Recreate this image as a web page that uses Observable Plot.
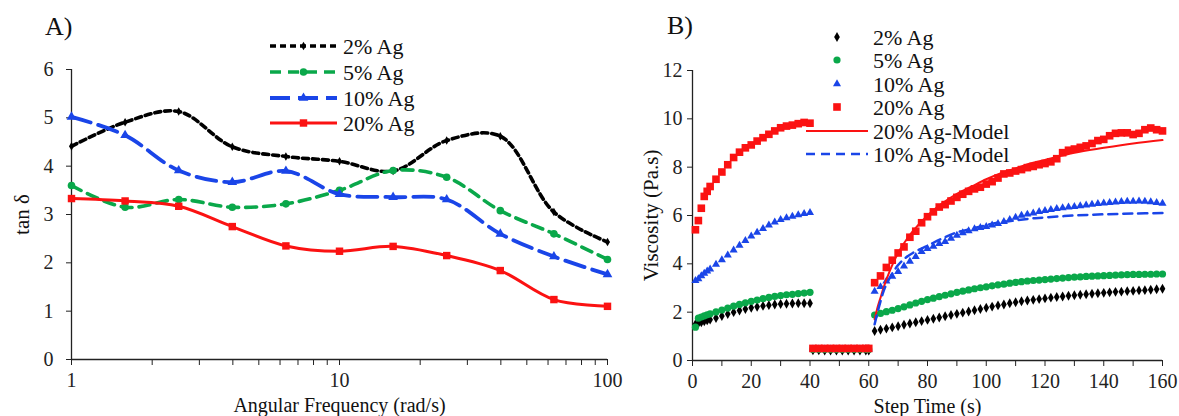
<!DOCTYPE html>
<html><head><meta charset="utf-8">
<script src="https://cdn.jsdelivr.net/npm/d3@7"></script>
<script src="https://cdn.jsdelivr.net/npm/@observablehq/plot@0.6"></script>
<style>
body{margin:0;background:#fff;}
#wrap{position:relative;width:1179px;height:416px;font-family:"Liberation Serif","Times New Roman",serif;overflow:hidden;}
#a,#b{position:absolute;top:0;}
#a{left:0px} #b{left:640px}
svg.ov{position:absolute;left:0;top:0;}
</style></head><body><div id="wrap"><div id="a"></div><div id="b"></div></div>
<script>
// ---------- Panel A data ----------
const freq = [1, 1.585, 2.512, 3.981, 6.31, 10, 15.85, 25.12, 39.81, 63.1, 100];
const tan2 = [4.41, 4.91, 5.13, 4.40, 4.20, 4.10, 3.90, 4.53, 4.62, 3.05, 2.43];
const tan5 = [3.60, 3.15, 3.31, 3.15, 3.22, 3.50, 3.91, 3.77, 3.08, 2.60, 2.07];
const tan10 = [5.02, 4.64, 3.91, 3.67, 3.90, 3.42, 3.36, 3.31, 2.60, 2.13, 1.76];
const tan20 = [3.33, 3.28, 3.17, 2.75, 2.35, 2.24, 2.34, 2.15, 1.84, 1.24, 1.10];
const xTicksA = [1,2,3,4,5,6,7,8,9,10,20,30,40,50,60,70,80,90,100];
const xLabelsA = [1,10,100];
const yTicksA = [0,1,2,3,4,5,6];

// ---------- Panel B data ----------
const t1 = [1,2,3,4,5,6,8,10,12,14,16,18,20,22,24,26,28,30,32,34,36,38,40];
const v2_1 = [1.5,1.54,1.58,1.62,1.66,1.69,1.76,1.84,1.92,2.0,2.07,2.13,2.18,2.22,2.26,2.29,2.32,2.34,2.35,2.36,2.37,2.37,2.37];
const v5_1 = [1.38,1.75,1.8,1.85,1.89,1.93,2.01,2.09,2.17,2.25,2.32,2.39,2.45,2.5,2.56,2.61,2.65,2.69,2.72,2.74,2.77,2.79,2.82];
const v10_1 = [3.3,3.38,3.5,3.6,3.7,3.78,3.98,4.16,4.36,4.57,4.76,4.96,5.14,5.3,5.46,5.6,5.72,5.83,5.9,5.96,6.02,6.08,6.12];
const v20_1 = [5.41,5.79,6.3,6.79,7.0,7.2,7.5,7.8,8.1,8.4,8.62,8.8,8.92,9.08,9.22,9.36,9.5,9.63,9.7,9.74,9.8,9.85,9.82];

const t2 = [41,43,45,47,49,51,53,55,57,59,60];
const v2_2 = [0.42,0.42,0.41,0.41,0.41,0.41,0.41,0.41,0.41,0.41,0.41];
const v5_2 = [0.46,0.46,0.46,0.46,0.46,0.46,0.46,0.46,0.46,0.46,0.46];
const v10_2 = [0.47,0.47,0.47,0.47,0.47,0.47,0.47,0.47,0.47,0.47,0.47];
const v20_2 = [0.5,0.5,0.5,0.5,0.5,0.5,0.5,0.5,0.5,0.5,0.5];

const t3 = [62,64,66,68,70,72,74,76,78,80,82,84,86,88,90,92,94,96,98,100,102,104,106,108,110,112,114,116,118,120,122,124,126,128,130,132,134,136,138,140,142,144,146,148,150,152,154,156,158,160];
const v2_3 = [1.22,1.27,1.32,1.37,1.42,1.48,1.53,1.58,1.63,1.68,1.73,1.78,1.83,1.88,1.93,1.98,2.03,2.08,2.13,2.18,2.23,2.28,2.32,2.37,2.41,2.45,2.48,2.51,2.54,2.57,2.6,2.63,2.65,2.68,2.7,2.72,2.74,2.76,2.78,2.8,2.82,2.84,2.85,2.87,2.88,2.9,2.91,2.93,2.95,2.97];
const v5_3 = [1.88,1.95,2.02,2.08,2.15,2.22,2.3,2.38,2.45,2.52,2.58,2.64,2.7,2.76,2.82,2.87,2.92,2.97,3.01,3.05,3.09,3.13,3.16,3.2,3.23,3.26,3.29,3.31,3.33,3.35,3.37,3.39,3.41,3.43,3.45,3.46,3.48,3.49,3.5,3.51,3.52,3.53,3.54,3.55,3.56,3.56,3.57,3.57,3.58,3.58];
const v10_3 = [2.86,3.05,3.28,3.48,3.68,3.9,4.1,4.3,4.5,4.63,4.72,4.83,4.92,5.05,5.18,5.28,5.36,5.44,5.5,5.54,5.6,5.66,5.74,5.83,5.92,6.0,6.05,6.1,6.16,6.2,6.24,6.28,6.31,6.34,6.37,6.4,6.43,6.46,6.49,6.51,6.53,6.55,6.57,6.58,6.58,6.59,6.58,6.56,6.53,6.5];
const v20_3 = [3.22,3.5,3.85,4.15,4.45,4.7,5.1,5.35,5.7,5.95,6.15,6.35,6.45,6.6,6.75,6.88,7.0,7.1,7.17,7.3,7.4,7.55,7.72,7.76,7.84,7.9,7.98,8.03,8.1,8.15,8.22,8.35,8.6,8.7,8.75,8.82,8.88,8.98,9.1,9.15,9.3,9.4,9.42,9.42,9.35,9.4,9.55,9.62,9.55,9.5];

const tModel = [62,63,64,65,66,68,70,72,75,80,85,90,95,100,105,110,115,120,130,140,150,160];
const model20 = [1.7,2.2,2.6,3.0,3.35,3.95,4.45,4.85,5.35,6.0,6.5,6.9,7.2,7.5,7.75,7.95,8.15,8.3,8.6,8.8,8.98,9.12];
const model10 = [1.5,2.0,2.45,2.85,3.15,3.6,3.95,4.2,4.45,4.75,5.05,5.3,5.45,5.6,5.72,5.8,5.87,5.92,6.0,6.05,6.08,6.1];

const xTicksB = [0,10,20,30,40,50,60,70,80,90,100,110,120,130,140,150,160];
const xLabelsB = [0,20,40,60,80,100,120,140,160];
const yTicksB = [0,2,4,6,8,10,12];

// ---------- styles ----------
const FONT = "Liberation Serif";
const C = {k:"#000000", g:"#0aa84a", b:"#1a45e8", r:"#fb1212"};
const seriesNames = ["2% Ag","5% Ag","10% Ag","20% Ag"];

const rows = (xs, ys) => xs.map((x,i)=>({x, y: ys[i]}));

const styleA = [
  {vals: tan2, color:C.k, dash:"6,4", w:3.6, sym:"diamond", r:2.6},
  {vals: tan5, color:C.g, dash:"11,7", w:3.6, sym:"circle", r:3.8},
  {vals: tan10, color:C.b, dash:"20,8", w:3.8, sym:"triangle", r:3.6},
  {vals: tan20, color:C.r, dash:null, w:3.0, sym:"square", r:4.2}
];

const marksA = [Plot.ruleX([1], {stroke:"#222", strokeWidth:1.3}), Plot.ruleY([0], {stroke:"#222", strokeWidth:1.3})];
styleA.forEach(s => {
  marksA.push(Plot.line(rows(freq, s.vals), {x:"x", y:"y", stroke:s.color, strokeWidth:s.w, strokeDasharray:s.dash || undefined, curve:"catmull-rom"}));
  marksA.push(Plot.dot(rows(freq, s.vals), {x:"x", y:"y", symbol:s.sym, r:s.r, fill:s.color, stroke:"none"}));
});
marksA.push(Plot.text(["Angular Frequency (rad/s)"], {text:d=>d, frameAnchor:"bottom", dy:46, fontSize:20, fill:"#111", lineAnchor:"middle"}));
marksA.push(Plot.text(["tan δ"], {text:d=>d, frameAnchor:"left", dx:-49, rotate:-90, fontSize:21, fill:"#111", textAnchor:"middle", lineAnchor:"middle"}));

const plotA = Plot.plot({
  width:640, height:416, marginLeft:71, marginRight:33, marginTop:69, marginBottom:57,
  style:{fontFamily:FONT, fontSize:"20px", color:"#222", background:"transparent", overflow:"visible"},
  x:{type:"log", domain:[1,100], ticks:xTicksA, tickFormat:d => xLabelsA.includes(d) ? String(d) : "", tickSize:6, tickPadding:7, label:null},
  y:{domain:[0,6], ticks:yTicksA, tickFormat:d => String(d), tickSize:5, tickPadding:13, label:null},
  marks: marksA
});
document.getElementById("a").appendChild(plotA);

// ---------- Panel B ----------
const styleB = [
  {segs:[v2_1,v2_2,v2_3], color:C.k, sym:"diamond", r:3.0},
  {segs:[v5_1,v5_2,v5_3], color:C.g, sym:"circle", r:3.6},
  {segs:[v10_1,v10_2,v10_3], color:C.b, sym:"triangle", r:3.0},
  {segs:[v20_1,v20_2,v20_3], color:C.r, sym:"square", r:4.3}
];
const times = [t1,t2,t3];
const marksB = [Plot.ruleX([0], {stroke:"#222", strokeWidth:1.3}), Plot.ruleY([0], {stroke:"#222", strokeWidth:1.3})];
styleB.forEach(s => {
  s.segs.forEach((vals, k) => {
    marksB.push(Plot.dot(rows(times[k], vals), {x:"x", y:"y", symbol:s.sym, r:s.r, fill:s.color, stroke:"none"}));
  });
});
marksB.push(Plot.line(rows(tModel, model20), {x:"x", y:"y", stroke:C.r, strokeWidth:2, curve:"catmull-rom"}));
marksB.push(Plot.line(rows(tModel, model10), {x:"x", y:"y", stroke:C.b, strokeWidth:2.5, strokeDasharray:"9,6", curve:"catmull-rom"}));
marksB.push(Plot.text(["Step Time (s)"], {text:d=>d, frameAnchor:"bottom", dy:46, fontSize:20, fill:"#111", lineAnchor:"middle"}));
marksB.push(Plot.text(["Viscosity (Pa.s)"], {text:d=>d, frameAnchor:"left", dx:-41, rotate:-90, fontSize:21, fill:"#111", textAnchor:"middle", lineAnchor:"middle"}));

const plotB = Plot.plot({
  width:539, height:416, marginLeft:52, marginRight:17, marginTop:70, marginBottom:56,
  style:{fontFamily:FONT, fontSize:"20px", color:"#222", background:"transparent", overflow:"visible"},
  x:{domain:[0,160], ticks:xTicksB, tickFormat:d => xLabelsB.includes(d) ? String(d) : "", tickSize:6, tickPadding:7, label:null},
  y:{domain:[0,12], ticks:yTicksB, tickFormat:d => String(d), tickSize:5, tickPadding:5, label:null},
  marks: marksB
});
document.getElementById("b").appendChild(plotB);

// ---------- overlay: panel letters & legends ----------
const ov = d3.select("#wrap").append("svg").attr("class","ov").attr("width",1179).attr("height",416)
  .style("font-family", FONT);
ov.append("text").attr("x",45).attr("y",35).attr("font-size",26).attr("fill","#111").text("A)");
ov.append("text").attr("x",667).attr("y",34).attr("font-size",26).attr("fill","#111").text("B)");

const symMap = {diamond:d3.symbolDiamond, circle:d3.symbolCircle, triangle:d3.symbolTriangle, square:d3.symbolSquare};
const legA = [46, 72, 98, 123];
styleA.forEach((s,i) => {
  const y = legA[i];
  ov.append("line").attr("x1",270).attr("x2",337).attr("y1",y).attr("y2",y)
    .attr("stroke",s.color).attr("stroke-width",s.w).attr("stroke-dasharray",s.dash);
  ov.append("path").attr("d", d3.symbol(symMap[s.sym], Math.PI*s.r*s.r)()).attr("transform",`translate(303.5,${y})`).attr("fill",s.color);
  ov.append("text").attr("x",343).attr("y",y).attr("dy","0.35em").attr("font-size",22).attr("fill","#111").text(seriesNames[i]);
});
const legB = [37, 60, 84, 107, 131, 154];
styleB.forEach((s,i) => {
  const y = legB[i];
  ov.append("path").attr("d", d3.symbol(symMap[s.sym], Math.PI*s.r*s.r)()).attr("transform",`translate(837,${y})`).attr("fill",s.color);
  ov.append("text").attr("x",873).attr("y",y).attr("dy","0.35em").attr("font-size",22).attr("fill","#111").text(seriesNames[i]);
});
ov.append("line").attr("x1",806).attr("x2",868).attr("y1",legB[4]).attr("y2",legB[4]).attr("stroke",C.r).attr("stroke-width",2);
ov.append("text").attr("x",873).attr("y",legB[4]).attr("dy","0.35em").attr("font-size",22).attr("fill","#111").text("20% Ag-Model");
ov.append("line").attr("x1",806).attr("x2",868).attr("y1",legB[5]).attr("y2",legB[5]).attr("stroke",C.b).attr("stroke-width",2.5).attr("stroke-dasharray","9,6");
ov.append("text").attr("x",873).attr("y",legB[5]).attr("dy","0.35em").attr("font-size",22).attr("fill","#111").text("10% Ag-Model");
</script>
</body></html>
